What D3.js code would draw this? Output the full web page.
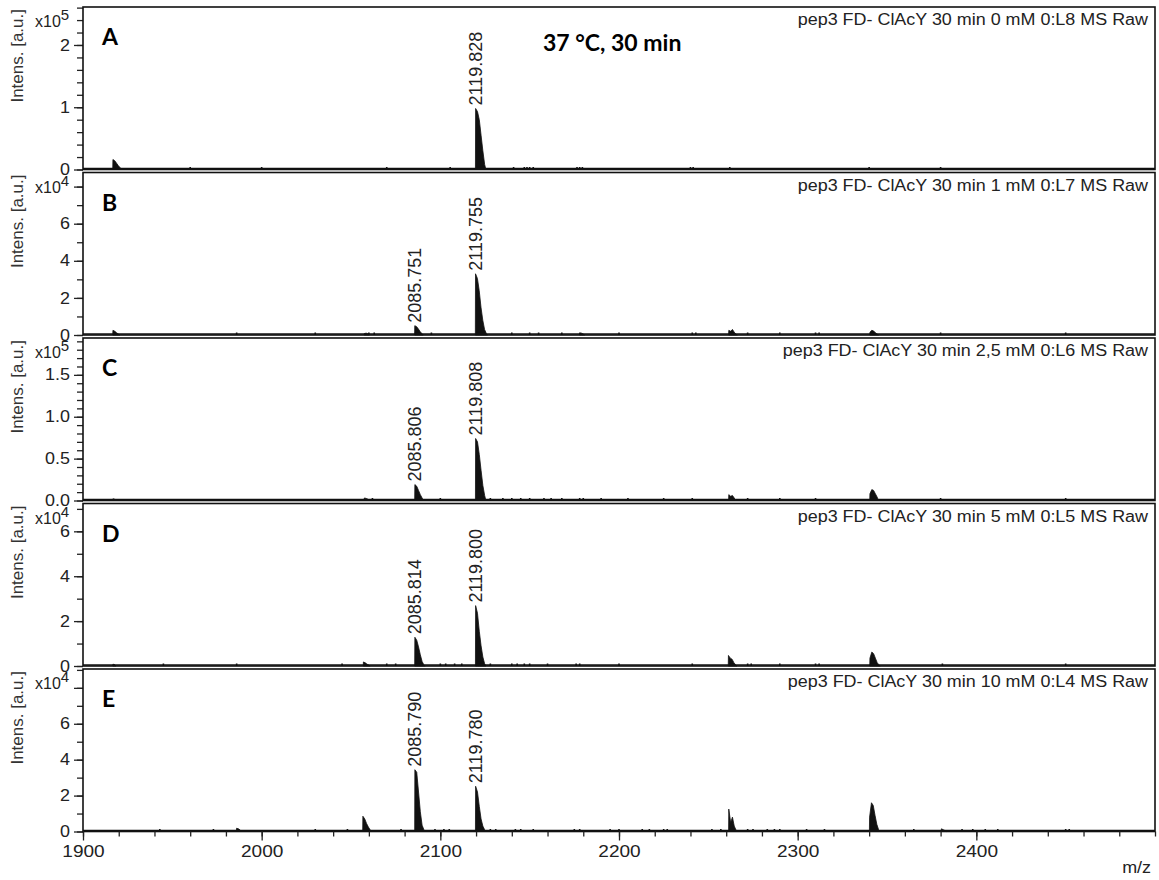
<!DOCTYPE html>
<html>
<head>
<meta charset="utf-8">
<script src="https://d3js.org/d3.v7.min.js"></script>
<style>
  body { margin: 0; background: #fff; }
  svg { display: block; font-family: "Liberation Sans", Arial, sans-serif; }
  .tick line { stroke: #222; stroke-width: 1.3; }
  .tick text { fill: #222; }
</style>
</head>
<body>
<svg width="1159" height="880"></svg>
<script>

// ---- data ----
var letters = ["A", "B", "C", "D", "E"];
var titles = [
  "pep3 FD- ClAcY 30 min 0 mM 0:L8 MS Raw",
  "pep3 FD- ClAcY 30 min 1 mM 0:L7 MS Raw",
  "pep3 FD- ClAcY 30 min 2,5 mM 0:L6 MS Raw",
  "pep3 FD- ClAcY 30 min 5 mM 0:L5 MS Raw",
  "pep3 FD- ClAcY 30 min 10 mM 0:L4 MS Raw"
];
var exponents = [5, 4, 5, 4, 4];
var yMax = [2.61, 8.76, 1.94, 7.24, 9.05];
var majorStep = [1, 2, 0.5, 2, 2];
var minorStep = [0.2, 1, 0.1, 1, 1];
var tickFormats = ["d", "d", ".1f", "d", "d"];
var xTicksMajor = [1900, 2000, 2100, 2200, 2300, 2400];

// isotope clusters: [first m/z, heights of the isotopes, 1 Da apart]
var clustersA = [
  [1916.8, [0.16, 0.14, 0.1, 0.06, 0.03]],
  [2119.8, [0.98, 0.93, 0.8, 0.55, 0.3, 0.08]]
];
var clustersB = [
  [1916.8, [0.25, 0.2, 0.12, 0.05]],
  [2057.5, [0.08, 0.1, 0.06]],
  [2085.75, [0.5, 0.45, 0.32, 0.18, 0.07]],
  [2119.75, [3.3, 3.05, 2.4, 1.5, 0.8, 0.3, 0.08]],
  [2178, [0.12, 0.1, 0.05]],
  [2261.5, [0.25, 0.2, 0.3, 0.15, 0.05]],
  [2340.5, [0.15, 0.25, 0.22, 0.12, 0.05]]
];
var clustersC = [
  [1916.8, [0.02, 0.015]],
  [2057.5, [0.03, 0.025, 0.015]],
  [2085.8, [0.19, 0.17, 0.12, 0.07, 0.03]],
  [2119.8, [0.74, 0.7, 0.55, 0.36, 0.18, 0.06]],
  [2261.5, [0.07, 0.05, 0.06, 0.03]],
  [2340.5, [0.08, 0.13, 0.12, 0.08, 0.04]]
];
var clustersD = [
  [1916.8, [0.08, 0.06]],
  [2057, [0.18, 0.14, 0.08, 0.04]],
  [2085.8, [1.28, 1.15, 0.85, 0.5, 0.2, 0.05]],
  [2119.8, [2.69, 2.35, 1.55, 0.9, 0.4, 0.1]],
  [2261.3, [0.47, 0.35, 0.3, 0.15, 0.05]],
  [2340.5, [0.35, 0.62, 0.55, 0.35, 0.15, 0.05]]
];
var clustersE = [
  [1986, [0.18, 0.15, 0.08]],
  [2056.7, [0.85, 0.7, 0.45, 0.25, 0.1]],
  [2085.8, [3.44, 3.3, 2.2, 1.1, 0.35, 0.1]],
  [2119.8, [2.52, 2.2, 1.4, 0.7, 0.3, 0.1]],
  [2261.5, [1.25, 0.5, 0.8, 0.3, 0.08]],
  [2340.3, [0.8, 1.6, 1.45, 0.9, 0.4, 0.1]],
  [2380.5, [0.15, 0.1, 0.05]]
];

// single small noise peaks: [m/z, height]
var noiseA = [[1960, 0.006], [2000, 0.006], [2070, 0.008], [2105.5, 0.015], [2141, 0.02], [2147, 0.02],
  [2148.5, 0.025], [2150, 0.02], [2152, 0.02], [2176.5, 0.02], [2178, 0.035], [2179.5, 0.02],
  [2240, 0.015], [2241.5, 0.02], [2262, 0.01], [2340, 0.01], [2380, 0.008]];
var noiseB = [[1986, 0.04], [2030, 0.03], [2060, 0.08], [2063, 0.06], [2095, 0.05], [2140, 0.06],
  [2150, 0.08], [2155, 0.06], [2168, 0.05], [2200, 0.05], [2241, 0.1], [2243, 0.06], [2272, 0.05],
  [2290, 0.05], [2310, 0.06], [2312, 0.05], [2380, 0.05], [2450, 0.04]];
var noiseC = [[2062, 0.015], [2100, 0.01], [2128, 0.02], [2135, 0.015], [2140, 0.02], [2145, 0.02],
  [2150, 0.015], [2158, 0.02], [2162, 0.015], [2168, 0.02], [2178, 0.03], [2180, 0.02], [2190, 0.02],
  [2205, 0.01], [2225, 0.012], [2241, 0.012], [2272, 0.015], [2290, 0.012], [2310, 0.02],
  [2380, 0.015], [2450, 0.012]];
var noiseD = [[1945, 0.03], [1986, 0.04], [2045, 0.04], [2070, 0.04], [2075, 0.04], [2100, 0.06],
  [2103, 0.05], [2108, 0.04], [2112, 0.05], [2128, 0.06], [2140, 0.08], [2143, 0.06], [2147, 0.07],
  [2150, 0.06], [2160, 0.05], [2176, 0.07], [2178, 0.08], [2200, 0.05], [2241, 0.06], [2272, 0.06],
  [2274, 0.05], [2290, 0.05], [2310, 0.08], [2312, 0.06], [2381, 0.1], [2450, 0.05]];
var noiseE = [[1943, 0.05], [1973, 0.04], [2030, 0.05], [2048, 0.04], [2078, 0.04], [2097, 0.05],
  [2102, 0.06], [2105, 0.05], [2128, 0.08], [2131, 0.06], [2142, 0.08], [2145, 0.07], [2152, 0.05],
  [2175, 0.08], [2178, 0.06], [2195, 0.05], [2200, 0.05], [2213, 0.04], [2217, 0.04], [2225, 0.06],
  [2227, 0.05], [2252, 0.04], [2257, 0.05], [2272, 0.08], [2275, 0.08], [2283, 0.05], [2287, 0.06],
  [2290, 0.07], [2305, 0.05], [2315, 0.04], [2365, 0.04], [2392, 0.04], [2398, 0.04], [2405, 0.05],
  [2412, 0.05], [2450, 0.08], [2452, 0.08]];

// annotated peaks
var labelsA = ["2119.828"];
var labelsB = ["2085.751", "2119.755"];
var labelsC = ["2085.806", "2119.808"];
var labelsD = ["2085.814", "2119.800"];
var labelsE = ["2085.790", "2119.780"];

var clusters = [clustersA, clustersB, clustersC, clustersD, clustersE];
var noise = [noiseA, noiseB, noiseC, noiseD, noiseE];
var peakLabels = [labelsA, labelsB, labelsC, labelsD, labelsE];

// ---- layout ----
var svg = d3.select("svg");
var plotLeft = 83, plotRight = 1155;
var panelTop0 = 7, panelStep = 165.5, panelH = 162.5;
var ink = "#111", textCol = "#222";
var stretchK = 1.12;

var x = d3.scaleLinear().domain([1900, 2500]).range([plotLeft, plotRight]);

function stretch(sel, k) {
  sel.each(function() {
    var w = this.getComputedTextLength();
    d3.select(this).attr("textLength", w * k).attr("lengthAdjust", "spacingAndGlyphs");
  });
}

function steps(max, step) {
  var out = [];
  for (var v = 0; v <= max + 1e-9; v += step) out.push(+v.toFixed(4));
  return out;
}

var area = d3.area().curve(d3.curveLinear);

function drawPanel(i) {
  var pTop = panelTop0 + i * panelStep;
  var base = pTop + panelH;
  var y = d3.scaleLinear().domain([0, yMax[i]]).range([base, pTop]);
  var g = svg.append("g");

  // minor ticks
  g.append("g")
    .attr("transform", "translate(" + plotLeft + ",0)")
    .call(d3.axisLeft(y).tickValues(steps(yMax[i], minorStep[i])).tickSize(6).tickFormat(""))
    .call(function(a) { a.select(".domain").remove(); });

  // major ticks with labels (the one hidden under the x10 tag stays unlabelled)
  var majors = steps(yMax[i], majorStep[i]);
  var yAx = g.append("g")
    .attr("transform", "translate(" + plotLeft + ",0)")
    .call(d3.axisLeft(y).tickValues(majors).tickSize(9).tickPadding(4)
      .tickFormat(function(v) { return y(v) < pTop + 24 ? "" : d3.format(tickFormats[i])(v); }));
  yAx.select(".domain").remove();
  yAx.selectAll("text").attr("font-size", 16).attr("font-family", "Liberation Sans, Arial").attr("fill", textCol);
  stretch(yAx.selectAll("text"), stretchK);

  // spectrum baseline
  g.append("line")
    .attr("x1", plotLeft).attr("x2", plotRight)
    .attr("y1", base - 1).attr("y2", base - 1)
    .attr("stroke", ink).attr("stroke-width", 1.6);

  // noise sticks
  g.selectAll(".noise")
    .data(noise[i]).enter().append("rect")
    .attr("x", function(d) { return x(d[0]) - 0.8; })
    .attr("width", 1.6)
    .attr("y", function(d) { return Math.min(y(d[1]), base - 2.5); })
    .attr("height", function(d) { return base - Math.min(y(d[1]), base - 2.5); })
    .attr("fill", ink);

  // isotope clusters
  area.x(function(p) { return x(p[0]); }).y0(base).y1(function(p) { return y(p[1]); });
  g.selectAll(".cl")
    .data(clusters[i]).enter().append("path")
    .attr("d", function(c) {
      var pts = [[c[0] - 0.15, 0]];
      c[1].forEach(function(h, k) {
        pts.push([c[0] + k - (k === 0 ? 0.05 : 0), h]);
      });
      pts.push([c[0] + c[1].length - 0.3, 0]);
      return area(pts);
    })
    .attr("fill", ink).attr("stroke", ink).attr("stroke-width", 0.8);

  // peak labels
  var cl = clusters[i];
  g.selectAll(".pl")
    .data(peakLabels[i]).enter().append("text")
    .attr("transform", function(t) {
      var mz = +t;
      var c = cl.reduce(function(a, b) { return Math.abs(b[0] - mz) < Math.abs(a[0] - mz) ? b : a; });
      var h = d3.max(c[1]);
      return "translate(" + x(mz) + "," + (y(h) - 3) + ") rotate(-90)";
    })
    .attr("dy", "0.36em")
    .attr("font-size", 18)
    .attr("fill", textCol)
    .text(function(t) { return t; });

  // frame
  g.append("rect")
    .attr("x", plotLeft).attr("y", pTop)
    .attr("width", plotRight - plotLeft).attr("height", panelH)
    .attr("fill", "none").attr("stroke", ink).attr("stroke-width", 1.6);

  // scale factor tag
  var et = g.append("text")
    .attr("x", 35).attr("y", pTop + 20)
    .attr("font-size", 16).attr("fill", textCol);
  et.append("tspan").text("x10");
  et.append("tspan").attr("dy", -7).attr("font-size", 15).text(exponents[i]);

  // y axis title
  g.append("text")
    .attr("transform", "translate(23," + (pTop + 2) + ") rotate(-90)")
    .attr("text-anchor", "end")
    .attr("font-size", 17)
    .attr("fill", "#333")
    .text("Intens. [a.u.]");

  // panel letter
  g.append("text")
    .attr("x", 102).attr("y", pTop + 38)
    .attr("font-family", "Lato, 'Open Sans', sans-serif")
    .attr("font-weight", "bold").attr("font-size", 23)
    .attr("fill", "#000")
    .text(letters[i]);

  // spectrum title
  var tt = g.append("text")
    .attr("x", 1148).attr("y", pTop + 18)
    .attr("text-anchor", "end")
    .attr("font-size", 16)
    .attr("fill", textCol)
    .text(titles[i]);
  stretch(tt, stretchK);

  if (i === 4) {
    var xMinor = d3.range(1900, 2501, 20);
    g.append("g")
      .attr("transform", "translate(0," + base + ")")
      .call(d3.axisBottom(x).tickValues(xMinor).tickSize(5).tickFormat(""))
      .call(function(a) { a.select(".domain").remove(); });
    var xAx = g.append("g")
      .attr("transform", "translate(0," + base + ")")
      .call(d3.axisBottom(x).tickValues(xTicksMajor).tickSize(9).tickPadding(4).tickFormat(d3.format("d")));
    xAx.select(".domain").remove();
    xAx.selectAll("text").attr("font-size", 17).attr("font-family", "Liberation Sans, Arial").attr("fill", textCol);
    stretch(xAx.selectAll("text"), stretchK);

    var mzT = g.append("text")
      .attr("x", 1151).attr("y", base + 41)
      .attr("text-anchor", "end")
      .attr("font-size", 16)
      .attr("fill", textCol)
      .text("m/z");
    stretch(mzT, stretchK);
  }
}

for (var i = 0; i < 5; i++) drawPanel(i);

// experiment condition
svg.append("text")
  .attr("x", 543).attr("y", 51)
  .attr("font-family", "Lato, 'Open Sans', sans-serif")
  .attr("font-weight", "bold").attr("font-size", 23)
  .attr("fill", "#000")
  .text("37 °C, 30 min");

</script>
</body>
</html>
